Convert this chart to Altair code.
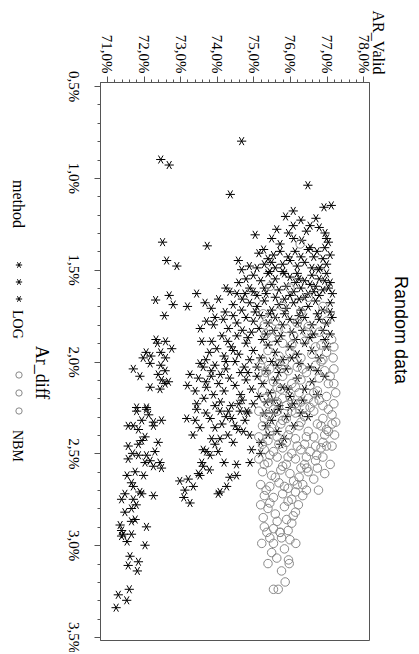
import altair as alt
import pandas as pd

TITLE = "Random data"
X_TITLE = "AR_Valid"
Y_TITLE = "Ar_diff"
LEGEND_TITLE = "method"
METHODS = ["LOG", "NBM"]

# (AR_Valid %, Ar_diff %)
LOG_POINTS = [
    (74.68, 0.80), (72.47, 0.90), (72.70, 0.93), (76.49, 1.04), (74.37, 1.09), (77.13, 1.15), (76.93, 1.16), (76.09, 1.18),
    (75.88, 1.21), (76.30, 1.23), (76.71, 1.22), (76.09, 1.26), (76.55, 1.26), (75.64, 1.28), (75.05, 1.31), (75.96, 1.30),
    (75.50, 1.33), (76.96, 1.30), (77.00, 1.33), (77.05, 1.35), (76.32, 1.34), (76.10, 1.33), (76.45, 1.29), (76.80, 1.27),
    (75.73, 1.36), (75.28, 1.39), (76.56, 1.38), (76.74, 1.40), (76.50, 1.39), (75.73, 1.40), (76.14, 1.40), (72.52, 1.35),
    (73.74, 1.37), (72.63, 1.45), (72.91, 1.48), (74.59, 1.45), (74.68, 1.50), (74.89, 1.48),
    (75.10, 1.49), (75.30, 1.47), (75.50, 1.46), (75.60, 1.49), (75.80, 1.47), (76.00, 1.45), (76.20, 1.48), (76.40, 1.46),
    (76.60, 1.49), (76.78, 1.50), (76.82, 1.49), (76.90, 1.44), (77.10, 1.42), (75.95, 1.43), (76.30, 1.43), (75.40, 1.44),
    (77.00, 1.47), (75.15, 1.41), (75.55, 1.42), (76.65, 1.43), (76.95, 1.38),
    (72.33, 1.665), (72.81, 1.69), (72.57, 1.75), (73.45, 1.63), (73.68, 1.68), (74.36, 1.62), (74.55, 1.63), (74.77, 1.63),
    (75.00, 1.62), (77.16, 1.63), (72.70, 1.64), (73.20, 1.70), (74.05, 1.66), (74.25, 1.60),
    (74.80, 1.55), (75.00, 1.53), (75.20, 1.56), (75.40, 1.52), (75.60, 1.55), (75.80, 1.51), (76.00, 1.54), (76.20, 1.52),
    (76.40, 1.56), (76.60, 1.53), (76.80, 1.55), (77.00, 1.52), (75.30, 1.60), (75.50, 1.58), (75.70, 1.61), (75.90, 1.59),
    (76.10, 1.62), (76.30, 1.60), (76.50, 1.63), (76.70, 1.59), (76.90, 1.61), (75.10, 1.64), (75.60, 1.65), (76.00, 1.64),
    (76.40, 1.65), (76.80, 1.64), (74.60, 1.57), (74.90, 1.60), (77.10, 1.57), (75.45, 1.51), (76.15, 1.57),
    (75.85, 1.52), (76.25, 1.55), (76.55, 1.58), (76.95, 1.56), (75.35, 1.63), (75.85, 1.66), (76.25, 1.66), (76.65, 1.62),
    (77.05, 1.60), (74.70, 1.66),
    (74.45, 1.69), (74.23, 1.73), (74.68, 1.72), (73.95, 1.76), (73.72, 1.78), (73.91, 1.80), (74.18, 1.77), (74.45, 1.75),
    (74.55, 1.79), (74.32, 1.82), (77.10, 1.68), (77.10, 1.73), (77.00, 1.79), (77.10, 1.85), (73.85, 1.71), (73.55, 1.82),
    (74.90, 1.68), (75.10, 1.70), (75.30, 1.67), (75.50, 1.72), (75.70, 1.69), (75.90, 1.71), (76.10, 1.68), (76.30, 1.72),
    (76.50, 1.70), (76.70, 1.67), (76.90, 1.72), (74.80, 1.76), (75.00, 1.78), (75.20, 1.75), (75.40, 1.79), (75.60, 1.76),
    (75.80, 1.80), (76.00, 1.77), (76.20, 1.79), (76.40, 1.76), (76.60, 1.80), (76.80, 1.77), (74.70, 1.83), (74.95, 1.84),
    (75.15, 1.82), (75.35, 1.85), (75.55, 1.83), (75.75, 1.86), (76.05, 1.84), (76.35, 1.83), (76.65, 1.85), (76.90, 1.83),
    (75.05, 1.73), (75.45, 1.74), (75.85, 1.74), (76.25, 1.75), (76.75, 1.74), (77.15, 1.76), (74.55, 1.86), (74.85, 1.87),
    (75.25, 1.88), (75.65, 1.89), (76.15, 1.88), (76.55, 1.87), (76.95, 1.88),
    (72.34, 1.88), (72.38, 1.90), (72.60, 1.89), (72.77, 1.93), (72.07, 1.95), (71.99, 1.98), (72.18, 2.01), (72.47, 1.95),
    (72.47, 2.02), (72.59, 2.05), (71.72, 2.04), (72.20, 1.97), (72.40, 2.07), (72.60, 1.98), (71.90, 2.08),
    (73.59, 1.89), (73.86, 1.89), (74.14, 1.86), (73.54, 2.01), (73.63, 2.03), (73.80, 1.95), (74.00, 1.93), (74.20, 1.97),
    (74.40, 1.92), (74.60, 1.96), (74.80, 1.90), (73.70, 1.99), (73.95, 2.02), (74.25, 2.04), (74.50, 2.00), (74.75, 2.03),
    (75.00, 1.94), (75.20, 1.98), (75.40, 1.91), (75.60, 1.95), (75.80, 1.99), (76.00, 1.92), (76.20, 1.96), (76.40, 1.90),
    (76.60, 1.94), (76.80, 1.98), (77.00, 1.92), (75.10, 2.03), (75.35, 2.05), (75.65, 2.02), (75.90, 2.04), (76.25, 2.01),
    (76.55, 2.03), (74.90, 1.99), (74.30, 1.89), (73.85, 2.05), (74.45, 1.94), (75.50, 2.00), (76.05, 1.98), (76.75, 2.05),
    (76.95, 2.08), (74.25, 2.00),
    (72.49, 2.10), (72.59, 2.12), (72.68, 2.11), (72.45, 2.15), (72.18, 2.14), (71.81, 2.25), (72.08, 2.25),
    (73.27, 2.07), (73.20, 2.13), (73.41, 2.16), (73.72, 2.14), (73.91, 2.18), (73.50, 2.09), (73.65, 2.20), (73.85, 2.08),
    (74.05, 2.12), (74.20, 2.16), (74.35, 2.09), (74.50, 2.13), (74.65, 2.18), (74.80, 2.10), (74.95, 2.15), (75.10, 2.08),
    (75.25, 2.12), (75.45, 2.17), (75.60, 2.10), (75.80, 2.14), (76.00, 2.19), (76.20, 2.09), (76.40, 2.15), (76.60, 2.11),
    (74.10, 2.22), (74.40, 2.24), (74.70, 2.21), (75.00, 2.23), (75.35, 2.22), (75.70, 2.24), (76.10, 2.23), (73.45, 2.23),
    (73.95, 2.24), (74.65, 2.06), (74.10, 2.07), (75.70, 2.06), (74.85, 2.06), (73.70, 2.11), (74.60, 2.23), (75.15, 2.19),
    (75.55, 2.21), (75.95, 2.15), (76.35, 2.21), (76.75, 2.18),
    (71.81, 2.27), (72.08, 2.26), (71.95, 2.32), (71.58, 2.35), (71.72, 2.35), (72.27, 2.35), (72.49, 2.32), (72.27, 2.33),
    (71.86, 2.37), (72.04, 2.41), (72.14, 2.29), (71.95, 2.43), (72.40, 2.44),
    (73.18, 2.31), (73.41, 2.32), (73.45, 2.26), (73.54, 2.36), (73.82, 2.31), (73.95, 2.36), (74.14, 2.34), (73.86, 2.42),
    (74.09, 2.42), (74.41, 2.31), (74.50, 2.35), (74.59, 2.37), (74.73, 2.38), (74.82, 2.27), (74.09, 2.27), (74.32, 2.27),
    (74.64, 2.27), (74.77, 2.32), (74.45, 2.44), (74.85, 2.28), (74.25, 2.30), (73.70, 2.28), (74.90, 2.40), (74.30, 2.40),
    (73.35, 2.40),
    (75.30, 2.28), (75.50, 2.32), (75.70, 2.26), (75.90, 2.30), (76.10, 2.35), (75.40, 2.40), (75.65, 2.38), (76.30, 2.28),
    (75.20, 2.44), (75.85, 2.42), (75.55, 2.28), (76.00, 2.25), (76.50, 2.30), (75.35, 2.35), (75.75, 2.45),
    (71.58, 2.46), (71.86, 2.45), (71.58, 2.53), (71.86, 2.51), (72.08, 2.51), (72.31, 2.49), (72.18, 2.54), (72.27, 2.57),
    (72.45, 2.55), (72.49, 2.58), (72.04, 2.55), (71.77, 2.60), (71.67, 2.66), (71.72, 2.68), (71.70, 2.50), (72.00, 2.62),
    (71.55, 2.62),
    (73.95, 2.45), (73.72, 2.49), (73.63, 2.48), (74.04, 2.49), (73.82, 2.51), (73.59, 2.55), (73.63, 2.57), (73.50, 2.61),
    (73.54, 2.62), (72.99, 2.65), (73.22, 2.64), (73.36, 2.68), (74.27, 2.68), (74.36, 2.63), (74.54, 2.62), (74.54, 2.56),
    (74.91, 2.55), (74.95, 2.48), (75.20, 2.50), (73.80, 2.59), (74.20, 2.55),
    (71.90, 2.71), (71.95, 2.72), (72.27, 2.73), (71.49, 2.72), (71.40, 2.75), (71.72, 2.75), (71.49, 2.82), (71.67, 2.80),
    (71.77, 2.86), (71.67, 2.87), (72.08, 2.90), (71.36, 2.89), (71.40, 2.92), (71.45, 2.94), (73.13, 2.70), (73.27, 2.77),
    (74.09, 2.71), (74.04, 2.72), (71.80, 2.78), (73.10, 2.74),
    (71.40, 2.95), (71.67, 2.94), (72.04, 3.00), (71.63, 3.06), (71.86, 3.09), (71.58, 3.11), (71.83, 3.14), (71.61, 3.24),
    (71.31, 3.27), (71.54, 3.30), (71.25, 3.34), (71.55, 2.98),
]

NBM_POINTS = [
    (76.28, 1.36), (75.46, 1.59), (75.27, 1.74), (77.00, 1.78), (77.14, 1.88), (76.00, 1.60), (76.50, 1.65), (75.80, 1.70),
    (76.30, 1.73), (76.90, 1.70),
    (75.30, 1.80), (75.60, 1.78), (75.90, 1.82), (76.20, 1.79), (76.50, 1.81), (76.80, 1.84), (75.50, 1.87), (75.80, 1.90),
    (76.10, 1.86), (76.40, 1.89), (76.70, 1.92), (77.00, 1.95), (75.40, 1.94), (75.70, 1.97), (76.00, 1.95), (76.30, 1.98),
    (76.60, 1.96), (76.90, 1.99), (77.18, 1.98), (75.25, 1.99), (75.35, 1.85), (75.65, 1.84), (76.05, 1.91), (76.45, 1.84),
    (76.85, 1.91), (77.20, 1.92),
    (75.20, 2.02), (75.45, 2.04), (75.70, 2.01), (75.95, 2.05), (76.20, 2.03), (76.45, 2.06), (76.70, 2.02), (76.95, 2.05),
    (77.20, 2.04), (75.30, 2.09), (75.55, 2.11), (75.80, 2.08), (76.05, 2.12), (76.30, 2.10), (76.55, 2.13), (76.80, 2.09),
    (77.05, 2.12), (77.25, 2.17), (75.25, 2.16), (75.50, 2.18), (75.75, 2.15), (76.00, 2.19), (76.25, 2.17), (76.50, 2.20),
    (76.75, 2.16), (77.00, 2.19), (75.40, 2.23), (75.65, 2.22), (75.90, 2.24), (76.15, 2.23), (76.40, 2.25), (76.65, 2.22),
    (76.90, 2.24), (77.20, 2.23), (75.35, 2.06), (75.85, 2.00), (76.35, 2.04), (76.85, 2.00), (77.10, 2.08), (75.65, 2.14),
    (76.15, 2.14), (76.65, 2.17), (77.20, 2.12), (75.30, 2.20), (75.80, 2.20), (76.30, 2.22), (76.80, 2.21),
    (75.15, 2.27), (75.40, 2.29), (75.65, 2.27), (75.90, 2.31), (76.15, 2.28), (76.40, 2.30), (76.65, 2.27), (76.90, 2.31),
    (77.15, 2.29), (77.25, 2.33), (75.25, 2.35), (75.50, 2.36), (75.75, 2.34), (76.00, 2.37), (76.25, 2.35), (76.50, 2.38),
    (76.75, 2.34), (77.00, 2.37), (77.22, 2.40), (75.15, 2.41), (75.40, 2.43), (75.65, 2.41), (75.90, 2.44), (76.15, 2.42),
    (76.40, 2.45), (76.65, 2.41), (76.90, 2.44), (77.15, 2.46), (75.30, 2.48), (75.55, 2.49), (75.80, 2.47), (76.05, 2.50),
    (76.30, 2.48), (76.55, 2.49), (76.85, 2.47), (75.55, 2.26), (76.05, 2.27), (76.55, 2.25), (77.05, 2.26), (75.30, 2.31),
    (75.80, 2.32), (76.30, 2.33), (76.85, 2.35), (77.15, 2.34), (75.45, 2.38), (75.95, 2.40), (76.45, 2.41), (76.95, 2.40),
    (75.25, 2.45), (75.70, 2.45), (76.20, 2.46), (76.70, 2.46),
    (75.15, 2.53), (75.40, 2.55), (75.65, 2.52), (75.90, 2.56), (76.15, 2.53), (76.40, 2.56), (76.70, 2.54), (77.10, 2.56),
    (75.25, 2.60), (75.50, 2.62), (75.75, 2.59), (76.00, 2.61), (76.25, 2.63), (76.50, 2.60), (76.95, 2.61), (75.20, 2.67),
    (75.45, 2.68), (75.70, 2.66), (75.95, 2.69), (76.20, 2.67), (76.45, 2.70), (75.30, 2.73), (75.55, 2.74), (75.80, 2.72),
    (76.05, 2.75), (76.35, 2.73), (75.45, 2.51), (75.95, 2.52), (76.45, 2.52), (76.90, 2.52), (75.30, 2.56), (75.80, 2.57),
    (76.30, 2.58), (76.75, 2.58), (75.60, 2.63), (76.10, 2.65), (76.65, 2.64), (75.35, 2.70), (75.85, 2.68), (76.35, 2.67),
    (75.27, 2.85), (75.55, 2.91), (75.73, 2.93), (75.91, 2.86), (76.09, 2.84), (76.23, 2.78), (76.78, 2.70), (76.46, 2.58),
    (76.73, 2.51), (77.05, 2.38), (77.00, 2.46), (75.45, 2.77), (75.95, 2.76), (76.15, 2.71), (75.20, 2.78), (75.65, 2.87),
    (76.15, 2.82),
    (75.23, 2.99), (75.55, 2.99), (75.77, 2.96), (76.00, 2.97), (76.16, 2.99), (75.50, 3.04), (75.64, 3.07), (75.96, 3.08),
    (75.98, 3.10), (75.77, 3.14), (75.87, 3.20), (75.55, 3.24), (75.68, 3.24), (75.37, 2.93), (75.73, 2.93), (75.40, 2.80),
    (75.60, 2.83), (75.85, 2.79), (76.05, 2.88), (75.30, 2.90), (75.95, 2.92), (75.45, 2.96), (75.85, 3.02), (75.40, 3.10),
]

X_DOMAIN = [70.81, 78.16]
Y_DOMAIN = [0.478, 3.516]
X_TICKS = [round(71 + 0.2 * i, 1) for i in range(36)]
Y_TICKS = [round(0.5 + 0.1 * i, 1) for i in range(31)]

rows = [{"ar": a, "diff": d, "method": "LOG"} for a, d in LOG_POINTS]
rows += [{"ar": a, "diff": d, "method": "NBM"} for a, d in NBM_POINTS]
df = pd.DataFrame(rows)

SERIF = "Liberation Serif"
SANS = "Liberation Sans"
STAR = "M-1,0L1,0M-0.5,-0.866L0.5,0.866M0.5,-0.866L-0.5,0.866"
AXIS_GRAY = "#555555"
NBM_GRAY = "#888888"

x_major = "abs(datum.value - round(datum.value)) < 0.01"
y_major = "abs(datum.value * 2 - round(datum.value * 2)) < 0.01"

x_axis = alt.Axis(
    orient="top", values=X_TICKS, grid=False,
    labelExpr=f"{x_major} ? replace(format(datum.value, '.1f'), '.', ',') + '%' : ''",
    labelAngle=90, labelAlign="right", labelBaseline="middle", labelPadding=3,
    labelFont=SERIF, labelFontSize=15, labelColor="#000000", labelOverlap=False, labelFlush=False,
    tickSize={"condition": {"test": x_major, "value": 6}, "value": 3},
    tickColor=AXIS_GRAY, domainColor=AXIS_GRAY,
    title=X_TITLE, titleAngle=90, titleAlign="right", titleBaseline="middle",
    titleX=277, titleY=-8, titleFont=SERIF, titleFontSize=16, titleFontWeight="normal", titleColor="#000000",
)
y_axis = alt.Axis(
    orient="left", values=Y_TICKS, grid=False,
    labelExpr=f"{y_major} ? replace(format(datum.value, '.1f'), '.', ',') + '%' : ''",
    labelAngle=90, labelAlign="center", labelBaseline="top", labelPadding=14,
    labelFont=SERIF, labelFontSize=15, labelColor="#000000", labelOverlap=False, labelFlush=False,
    tickSize={"condition": {"test": y_major, "value": 6}, "value": 3},
    tickColor=AXIS_GRAY, domainColor=AXIS_GRAY,
    title=Y_TITLE, titleAngle=90, titleAlign="center", titleBaseline="middle",
    titleX=-60, titleY=290, titleFont=SERIF, titleFontSize=18, titleFontWeight="normal", titleColor="#000000",
)

points = alt.Chart(df).mark_point(filled=False, strokeWidth=1, opacity=1).encode(
    x=alt.X("ar:Q", scale=alt.Scale(domain=X_DOMAIN, nice=False, zero=False), axis=x_axis),
    y=alt.Y("diff:Q", scale=alt.Scale(domain=Y_DOMAIN, nice=False, zero=False, reverse=True), axis=y_axis),
    shape=alt.Shape("method:N", scale=alt.Scale(domain=METHODS, range=[STAR, "circle"]), legend=None),
    color=alt.Color("method:N", scale=alt.Scale(domain=METHODS, range=["#000000", NBM_GRAY]), legend=None),
    size=alt.Size("method:N", scale=alt.Scale(domain=METHODS, range=[85, 72]), legend=None),
)

leg_df = pd.DataFrame({"method": METHODS})
layers = [points]

# chart title (rotated, right side)
layers.append(
    alt.Chart(leg_df.head(1)).mark_text(
        text=TITLE, angle=90, align="center", baseline="middle", font=SANS, fontSize=18, color="#000000"
    ).encode(x=alt.value(300), y=alt.value(248))
)
# legend title
layers.append(
    alt.Chart(leg_df.head(1)).mark_text(
        text=LEGEND_TITLE, angle=90, align="left", baseline="middle", font=SERIF, fontSize=16, color="#000000"
    ).encode(x=alt.value(-82), y=alt.value(98))
)
# legend keys
key_specs = [
    ("LOG", STAR, "#000000", [183, 200, 217], 228),
    ("NBM", "circle", NBM_GRAY, [293, 311, 329], 348),
]
for name, shp, col, ys, ty in key_specs:
    sub = leg_df[leg_df["method"] == name]
    for yy in ys:
        layers.append(
            alt.Chart(sub).mark_point(shape=shp, filled=False, color=col, size=40, strokeWidth=1, opacity=1)
            .encode(x=alt.value(-81), y=alt.value(yy))
        )
    layers.append(
        alt.Chart(sub).mark_text(angle=90, align="left", baseline="middle", font=SERIF, fontSize=14, color="#000000")
        .encode(x=alt.value(-83), y=alt.value(ty), text="method:N")
    )

chart = alt.layer(*layers).properties(
    width=269, height=558,
    autosize=alt.AutoSizeParams(type="none"),
    padding={"left": 92, "top": 74, "right": 42, "bottom": 12},
).configure_view(stroke=AXIS_GRAY, strokeWidth=1)

chart.save("out.html", embed_options={"renderer": "svg", "actions": False})
